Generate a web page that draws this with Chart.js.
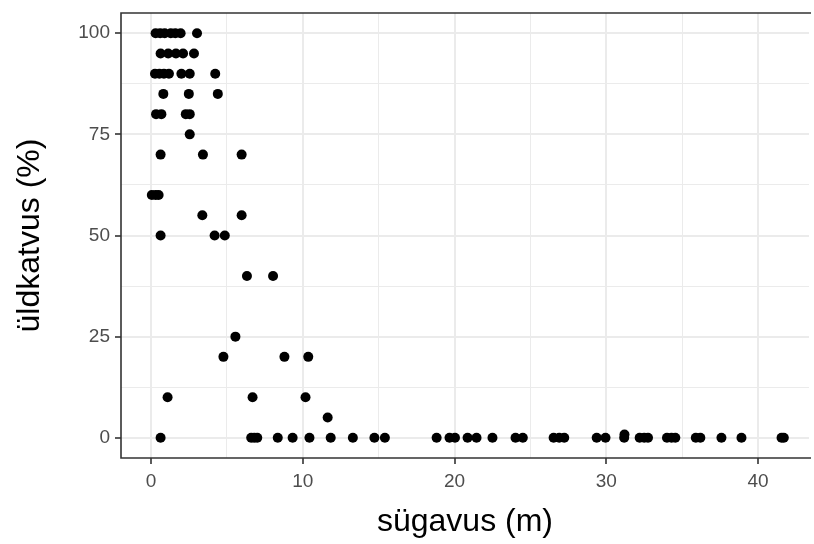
<!DOCTYPE html>
<html>
<head>
<meta charset="utf-8">
<script src="https://cdn.jsdelivr.net/npm/chart.js@4"></script>
<style>
  html, body { margin: 0; padding: 0; background: #fff; }
  #wrap { width: 814px; height: 544px; }
</style>
</head>
<body>
<div id="wrap"><canvas id="chart" width="814" height="544"></canvas></div>
<script>
    // depth (m) and total cover (%)
    const depth = [
        0.3, 0.6, 0.9, 1.3, 1.6, 1.95, 3.03,
        0.63, 1.13, 1.64, 2.11, 2.83,
        0.26, 0.55, 0.85, 1.18, 2.0, 2.55, 4.23,
        0.81, 2.49, 4.4,
        0.33, 0.68, 2.29, 2.55,
        2.55,
        0.63, 3.42, 5.97,
        0.05, 0.3, 0.5,
        3.38, 5.97,
        0.63, 4.19, 4.86,
        6.32, 8.04,
        5.56,
        4.77, 8.79, 10.36,
        1.09, 6.69, 10.18,
        11.64,
        0.63, 6.6, 6.8, 7.0, 8.35, 9.33, 10.44, 11.84, 13.3, 14.72, 15.41,
        18.82, 19.67, 20.03, 20.86, 21.45, 22.5, 24.02, 24.5, 26.53, 26.9, 27.23,
        29.37, 29.95, 31.18, 32.2, 32.5, 32.75, 34.0, 34.3, 34.55, 35.9, 36.2,
        37.59, 38.91, 41.55, 41.7,
        31.2
    ];
    const cover = [
        100, 100, 100, 100, 100, 100, 100,
        95, 95, 95, 95, 95,
        90, 90, 90, 90, 90, 90, 90,
        85, 85, 85,
        80, 80, 80, 80,
        75,
        70, 70, 70,
        60, 60, 60,
        55, 55,
        50, 50, 50,
        40, 40,
        25,
        20, 20, 20,
        10, 10, 10,
        5,
        0, 0, 0, 0, 0, 0, 0, 0, 0, 0, 0,
        0, 0, 0, 0, 0, 0, 0, 0, 0, 0, 0,
        0, 0, 0, 0, 0, 0, 0, 0, 0, 0, 0,
        0, 0, 0, 0,
        0.8
    ];

    const xTicks = [0, 5, 10, 15, 20, 25, 30, 35, 40];
    const xLabelled = [0, 10, 20, 30, 40];
    const yTicks = [0, 12.5, 25, 37.5, 50, 62.5, 75, 87.5, 100];
    const yLabelled = [0, 25, 50, 75, 100];

    const points = depth.map((d, i) => ({ x: d, y: cover[i] }));

    const gridCol = '#ebebeb';
    const axisCol = '#333333';
    const labelCol = '#4d4d4d';
    const tickFont = { family: 'Liberation Sans, Arial, sans-serif', size: 19 };
    const titleFont = { family: 'Liberation Sans, Arial, sans-serif', size: 32 };

    const panelBorder = {
        id: 'panelBorder',
        afterDatasetsDraw(chart) {
            const { ctx, chartArea: a } = chart;
            ctx.save();
            ctx.strokeStyle = axisCol;
            ctx.lineWidth = 1.6;
            ctx.beginPath();
            ctx.moveTo(a.right + 2, a.top);
            ctx.lineTo(a.left, a.top);
            ctx.lineTo(a.left, a.bottom);
            ctx.lineTo(a.right + 2, a.bottom);
            ctx.stroke();
            ctx.restore();
        }
    };

    function noPad(s) {
        s.paddingTop = 0;
        s.paddingBottom = 0;
        s.paddingLeft = 0;
        s.paddingRight = 0;
    }

    new Chart(document.getElementById('chart'), {
        type: 'scatter',
        data: {
            datasets: [{
                data: points,
                backgroundColor: '#000',
                borderWidth: 0,
                pointRadius: 5,
                pointHoverRadius: 5
            }]
        },
        options: {
            responsive: false,
            animation: false,
            layout: { padding: { top: 13, right: 0, left: 0, bottom: 0 } },
            plugins: { legend: { display: false }, tooltip: { enabled: false } },
            scales: {
                x: {
                    type: 'linear',
                    min: -1.98,
                    max: 43.36,
                    afterBuildTicks: s => { s.ticks = xTicks.map(v => ({ value: v })); },
                    afterFit: s => { s.height = 86; noPad(s); },
                    border: { display: false },
                    grid: {
                        color: gridCol,
                        lineWidth: c => (c.tick && xLabelled.includes(c.tick.value)) ? 2 : 1,
                        tickColor: c => (c.tick && xLabelled.includes(c.tick.value)) ? axisCol : 'rgba(0,0,0,0)',
                        tickLength: 6,
                        tickWidth: 1.6
                    },
                    ticks: {
                        autoSkip: false,
                        maxRotation: 0,
                        color: labelCol,
                        font: tickFont,
                        padding: 6,
                        callback: v => xLabelled.includes(v) ? String(v) : ''
                    },
                    title: {
                        display: true,
                        text: 'sügavus (m)',
                        color: '#000',
                        font: titleFont,
                        padding: { top: 0, bottom: 3 }
                    }
                },
                y: {
                    type: 'linear',
                    min: -5,
                    max: 105,
                    afterBuildTicks: s => { s.ticks = yTicks.map(v => ({ value: v })); },
                    afterFit: s => { s.width = 121; noPad(s); },
                    border: { display: false },
                    grid: {
                        color: gridCol,
                        lineWidth: c => (c.tick && yLabelled.includes(c.tick.value)) ? 2 : 1,
                        tickColor: c => (c.tick && yLabelled.includes(c.tick.value)) ? axisCol : 'rgba(0,0,0,0)',
                        tickLength: 6,
                        tickWidth: 1.6
                    },
                    ticks: {
                        autoSkip: false,
                        color: labelCol,
                        font: tickFont,
                        padding: 5,
                        callback: v => yLabelled.includes(v) ? String(v) : ''
                    },
                    title: {
                        display: true,
                        text: 'üldkatvus (%)',
                        color: '#000',
                        font: titleFont,
                        padding: { top: 11, bottom: 0 }
                    }
                }
            }
        },
        plugins: [panelBorder]
    });
</script>
</body>
</html>
